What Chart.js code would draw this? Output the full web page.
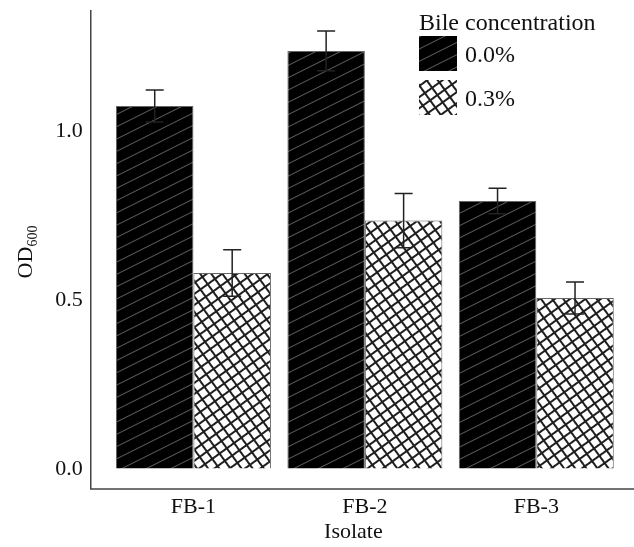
<!DOCTYPE html>
<html>
<head>
<meta charset="utf-8">
<script src="https://cdn.jsdelivr.net/npm/chart.js@4/dist/chart.umd.min.js"></script>
<style>
  body { margin: 0; background: #fff; }
  canvas { display: block; }
</style>
</head>
<body>
<canvas id="chart-od" width="634" height="547"></canvas>
<script>
const isolates = ['FB-1', 'FB-2', 'FB-3'];
const concentrations = ['0.0%', '0.3%'];
const od0 = [1.074, 1.237, 0.793];
const od3 = [0.580, 0.735, 0.506];
const err0 = [0.047, 0.059, 0.038];
const err3 = [0.069, 0.080, 0.047];
const yTicks = [0, 0.5, 1.0];

const serif = '"Liberation Serif", "Times New Roman", serif';

// motifs : hachures grises sur noir, quadrillage oblique sur blanc
function makePattern(size, bg, fg, lw, grid, angle) {
  const c = document.createElement('canvas');
  c.width = size; c.height = size;
  const g = c.getContext('2d');
  g.fillStyle = bg;
  g.fillRect(0, 0, size, size);
  g.fillStyle = fg;
  g.fillRect(0, 0, size, lw);
  if (grid) g.fillRect(0, 0, lw, size);
  const p = g.createPattern(c, 'repeat');
  p.setTransform(new DOMMatrix().rotate(angle));
  return p;
}
const solidHatch = makePattern(11, '#000', '#5a5a5a', 1, false, -26.6);
const crossHatch = makePattern(9, '#fff', '#1e1e1e', 2, true, -36);
const fills = [solidHatch, crossHatch];

// barres d'erreur
const errorBars = {
  id: 'errorBars',
  afterDatasetsDraw(chart) {
    const ctx = chart.ctx, y = chart.scales.y;
    const errs = [err0, err3];
    ctx.save();
    ctx.strokeStyle = '#222';
    ctx.lineWidth = 1.5;
    chart.data.datasets.forEach((ds, i) => {
      chart.getDatasetMeta(i).data.forEach((bar, j) => {
        const hi = y.getPixelForValue(ds.data[j] + errs[i][j]);
        const lo = y.getPixelForValue(ds.data[j] - errs[i][j]);
        ctx.beginPath();
        ctx.moveTo(bar.x, hi); ctx.lineTo(bar.x, lo);
        ctx.moveTo(bar.x - 9, hi); ctx.lineTo(bar.x + 9, hi);
        ctx.moveTo(bar.x - 9, lo); ctx.lineTo(bar.x + 9, lo);
        ctx.stroke();
      });
    });
    ctx.restore();
  }
};

// axes, titres d'axes et légende
const frame = {
  id: 'frame',
  afterDraw(chart) {
    const ctx = chart.ctx, a = chart.chartArea;
    const axisX = a.left - 17;
    ctx.save();
    ctx.strokeStyle = '#444';
    ctx.lineWidth = 1.5;
    ctx.beginPath();
    ctx.moveTo(axisX, a.top);
    ctx.lineTo(axisX, a.bottom);
    ctx.lineTo(chart.width, a.bottom);
    ctx.stroke();

    ctx.fillStyle = '#111';
    ctx.textBaseline = 'alphabetic';
    // Isolate
    ctx.font = '22px ' + serif;
    ctx.textAlign = 'center';
    ctx.fillText('Isolate', (axisX + a.right) / 2 - 3, 538);

    // OD600
    ctx.textAlign = 'left';
    const wOD = ctx.measureText('OD').width;
    ctx.font = '14px ' + serif;
    const wSub = ctx.measureText('600').width;
    ctx.translate(32, 252 + (wOD + wSub) / 2);
    ctx.rotate(-Math.PI / 2);
    ctx.font = '22px ' + serif;
    ctx.fillText('OD', 0, 0);
    ctx.font = '14px ' + serif;
    ctx.fillText('600', wOD, 5);
    ctx.setTransform(1, 0, 0, 1, 0, 0);

    // légende
    const lx = 419;
    ctx.font = '24px ' + serif;
    ctx.fillText('Bile concentration', lx, 30);
    chart.data.datasets.forEach((ds, i) => {
      const top = 36 + i * 44;
      ctx.fillStyle = ds.backgroundColor;
      ctx.fillRect(lx, top, 38, 35);
      ctx.fillStyle = '#111';
      ctx.fillText(ds.label, lx + 46, top + 26);
    });
    ctx.restore();
  }
};

new Chart(document.getElementById('chart-od'), {
  type: 'bar',
  data: {
    labels: isolates,
    datasets: [
      { label: concentrations[0], data: od0, backgroundColor: fills[0] },
      { label: concentrations[1], data: od3, backgroundColor: fills[1] }
    ]
  },
  options: {
    responsive: false,
    animation: false,
    layout: { padding: { left: 0, top: 10, right: 12, bottom: 0 } },
    datasets: {
      bar: {
        borderColor: '#666',
        borderWidth: 1,
        categoryPercentage: 0.904,
        barPercentage: 1
      }
    },
    plugins: {
      legend: { display: false },
      tooltip: { enabled: false }
    },
    scales: {
      x: {
        grid: { display: false, drawTicks: false },
        border: { display: false },
        ticks: { color: '#111', font: { family: serif, size: 22 }, padding: 5 },
        afterFit: s => { s.height = 58; }
      },
      y: {
        min: -0.059,
        max: 1.358,
        grid: {
          display: true,
          drawOnChartArea: false,
          drawTicks: true,
          tickLength: 25,
          color: 'transparent'
        },
        border: { display: false },
        afterBuildTicks: s => { s.ticks = yTicks.map(v => ({ value: v })); },
        ticks: {
          color: '#111',
          font: { family: serif, size: 22, lineHeight: 0.8 },
          padding: 0,
          callback: v => v.toFixed(1)
        },
        afterFit: s => { s.width = 107.75; }
      }
    }
  },
  plugins: [errorBars, frame]
});
</script>
</body>
</html>
